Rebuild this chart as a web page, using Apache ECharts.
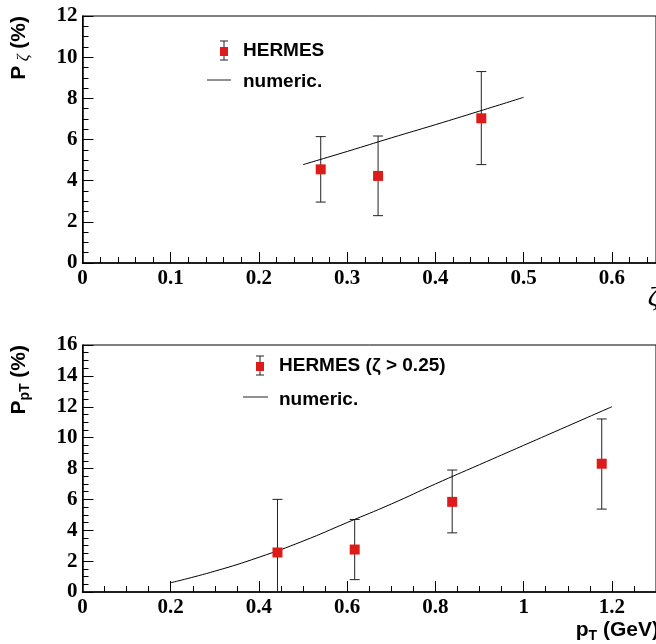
<!DOCTYPE html>
<html>
<head>
<meta charset="utf-8">
<script src="https://cdn.jsdelivr.net/npm/echarts@6/dist/echarts.min.js"></script>
<style>
  html, body { margin: 0; padding: 0; background: #fff; }
  #chart { width: 656px; height: 644px; }
</style>
</head>
<body>
<div id="chart"></div>
<script>
// top panel: polarization vs zeta
const zetaX = [0.27, 0.335, 0.452];
const zetaP = [4.55, 4.23, 7.03];
const zetaLo = [2.96, 2.3, 4.78];
const zetaHi = [6.14, 6.17, 9.3];
const zetaCurveX = [0.25, 0.3, 0.35, 0.4, 0.45, 0.5];
const zetaCurveY = [4.78, 5.42, 6.08, 6.72, 7.38, 8.05];

// bottom panel: polarization vs pT
const ptX = [0.442, 0.617, 0.838, 1.177];
const ptP = [2.56, 2.75, 5.84, 8.31];
const ptLo = [0, 0.8, 3.83, 5.37];
const ptHi = [6.0, 4.7, 7.9, 11.21];
const ptCurveX = [0.2, 0.3, 0.4, 0.5, 0.6, 0.7, 0.8, 0.9, 1.0, 1.1, 1.2];
const ptCurveY = [0.6, 1.35, 2.25, 3.3, 4.5, 5.7, 7.0, 8.25, 9.5, 10.75, 12.0];

const red = '#de1b1b';
const labelFont = { fontFamily: 'Liberation Serif', fontWeight: 'bold', fontSize: 21, color: '#000' };

function xAxisCfg(gridIndex, max, interval, minorSplit) {
  return {
    type: 'value', gridIndex: gridIndex, min: 0, max: max, interval: interval,
    axisLine: { lineStyle: { color: '#000', width: 1.5 } },
    axisTick: { inside: true, length: 11, lineStyle: { color: '#000' } },
    minorTick: { show: true, splitNumber: minorSplit, length: 6, lineStyle: { color: '#000' } },
    splitLine: { show: false },
    axisLabel: Object.assign({ margin: 5, showMaxLabel: false }, labelFont)
  };
}

function yAxisCfg(gridIndex, max) {
  return {
    type: 'value', gridIndex: gridIndex, min: 0, max: max, interval: 2,
    axisLine: { lineStyle: { color: '#000', width: 1.5 } },
    axisTick: { inside: true, length: 11, lineStyle: { color: '#000' } },
    minorTick: { show: true, splitNumber: 4, length: 6, lineStyle: { color: '#000' } },
    splitLine: { show: false },
    axisLabel: Object.assign({ margin: 5 }, labelFont)
  };
}

function zip(a, b) {
  return a.map((v, i) => [v, b[i]]);
}

// error bars drawn through the axis coordinates
function errorBars(xIdx, xs, lo, hi) {
  return {
    type: 'custom', xAxisIndex: xIdx, yAxisIndex: xIdx, z: 2,
    data: xs.map((x, i) => [x, lo[i], hi[i]]),
    renderItem: function (params, api) {
      const top = api.coord([api.value(0), api.value(2)]);
      const bot = api.coord([api.value(0), api.value(1)]);
      const w = 5;
      const st = { stroke: '#222', lineWidth: 1 };
      return {
        type: 'group',
        children: [
          { type: 'line', shape: { x1: top[0], y1: top[1], x2: bot[0], y2: bot[1] }, style: st },
          { type: 'line', shape: { x1: top[0] - w, y1: top[1], x2: top[0] + w, y2: top[1] }, style: st },
          { type: 'line', shape: { x1: bot[0] - w, y1: bot[1], x2: bot[0] + w, y2: bot[1] }, style: st }
        ]
      };
    }
  };
}

function legendBlock(x, y, label) {
  return [
    { type: 'line', shape: { x1: x, y1: y - 10, x2: x, y2: y + 9 }, style: { stroke: '#222', lineWidth: 1 } },
    { type: 'line', shape: { x1: x - 4, y1: y - 10, x2: x + 4, y2: y - 10 }, style: { stroke: '#222', lineWidth: 1 } },
    { type: 'line', shape: { x1: x - 4, y1: y + 9, x2: x + 4, y2: y + 9 }, style: { stroke: '#222', lineWidth: 1 } },
    { type: 'rect', shape: { x: x - 4, y: y - 4, width: 8, height: 9 }, style: { fill: red } },
    { type: 'text', x: x + 19, y: y, style: label }
  ];
}

const legendText = { fontFamily: 'Liberation Sans', fontWeight: 'bold', fontSize: 19, fill: '#000', verticalAlign: 'middle' };
const titleMain = { fontFamily: 'Liberation Sans', fontWeight: 'bold', fontSize: 21, lineHeight: 26, fill: '#000' };
const titleSub = { fontFamily: 'Liberation Sans', fontWeight: 'bold', fontSize: 14, fill: '#000', verticalAlign: 'bottom' };

const chart = echarts.init(document.getElementById('chart'));

const option = {
  backgroundColor: '#fff',
  animation: false,
  grid: [
    { left: 82.5, right: -3, top: 16, bottom: 381, show: true, borderColor: '#000', borderWidth: 1 },
    { left: 82.5, right: -3, top: 345, bottom: 52, show: true, borderColor: '#000', borderWidth: 1 }
  ],
  xAxis: [xAxisCfg(0, 0.65, 0.1, 5), xAxisCfg(1, 1.3, 0.2, 4)],
  yAxis: [yAxisCfg(0, 12), yAxisCfg(1, 16)],
  series: [
    { name: 'numeric.', type: 'line', xAxisIndex: 0, yAxisIndex: 0, data: zip(zetaCurveX, zetaCurveY),
      showSymbol: false, smooth: true, lineStyle: { color: '#000', width: 1 } },
    errorBars(0, zetaX, zetaLo, zetaHi),
    { name: 'HERMES', type: 'scatter', xAxisIndex: 0, yAxisIndex: 0, data: zip(zetaX, zetaP),
      symbol: 'rect', symbolSize: 10, itemStyle: { color: red, opacity: 1 }, z: 3 },
    { name: 'numeric.', type: 'line', xAxisIndex: 1, yAxisIndex: 1, data: zip(ptCurveX, ptCurveY),
      showSymbol: false, smooth: true, lineStyle: { color: '#000', width: 1 } },
    errorBars(1, ptX, ptLo, ptHi),
    { name: 'HERMES (ζ > 0.25)', type: 'scatter', xAxisIndex: 1, yAxisIndex: 1, data: zip(ptX, ptP),
      symbol: 'rect', symbolSize: 10, itemStyle: { color: red, opacity: 1 }, z: 3 }
  ],
  graphic: [].concat(
    legendBlock(224, 51, Object.assign({ text: 'HERMES' }, legendText)),
    [
      { type: 'line', shape: { x1: 207, y1: 80, x2: 231, y2: 80 }, style: { stroke: '#222', lineWidth: 1 } },
      { type: 'text', x: 243, y: 82, style: Object.assign({ text: 'numeric.' }, legendText) }
    ],
    legendBlock(260, 366, Object.assign({ text: 'HERMES (ζ > 0.25)' }, legendText)),
    [
      { type: 'line', shape: { x1: 243, y1: 397, x2: 268, y2: 397 }, style: { stroke: '#222', lineWidth: 1 } },
      { type: 'text', x: 279, y: 400, style: Object.assign({ text: 'numeric.' }, legendText) }
    ],
    [
      // y axis titles
      { type: 'text', x: 19, y: 16, rotation: Math.PI / 2,
        style: { text: '{m|P}{s| ζ}{m| (%)}', align: 'right', verticalAlign: 'middle',
          rich: {
            m: titleMain,
            s: { fontFamily: 'Liberation Serif', fontStyle: 'italic', fontSize: 17, fill: '#000', verticalAlign: 'bottom' }
          } } },
      { type: 'text', x: 19, y: 345, rotation: Math.PI / 2,
        style: { text: '{m|P}{s|pT}{m| (%)}', align: 'right', verticalAlign: 'middle',
          rich: { m: titleMain, s: titleSub } } },
      // x axis titles
      { type: 'text', x: 659, y: 298,
        style: { text: 'ζ', align: 'right', verticalAlign: 'middle', fontFamily: 'Liberation Serif',
          fontStyle: 'italic', fontSize: 28, fill: '#000' } },
      { type: 'text', x: 659, y: 630,
        style: { text: '{m|p}{s|T}{m| (GeV)}', align: 'right', verticalAlign: 'middle',
          rich: { m: titleMain, s: titleSub } } }
    ]
  )
};

chart.setOption(option);
</script>
</body>
</html>
